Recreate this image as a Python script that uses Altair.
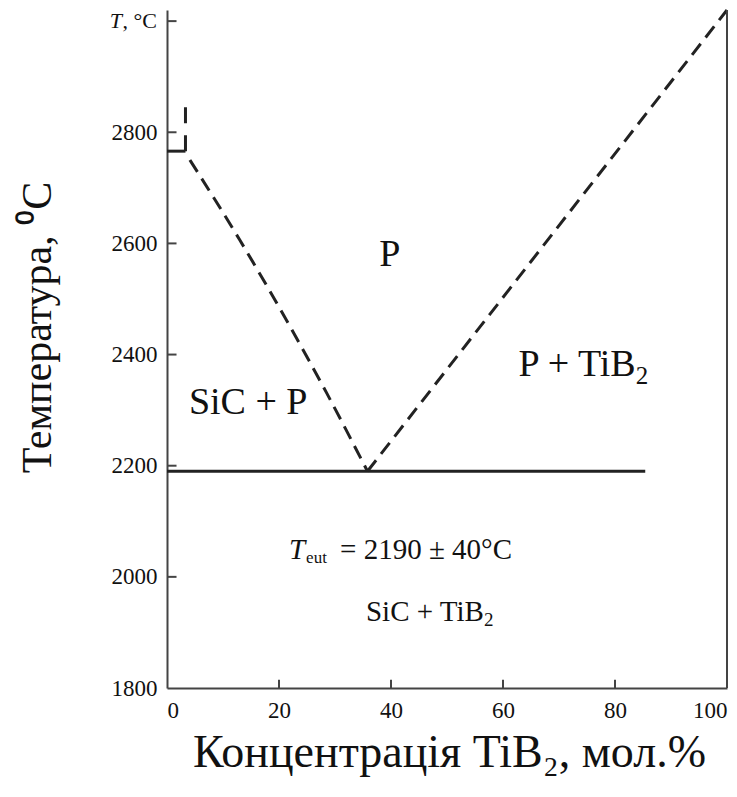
import altair as alt
import pandas as pd

# ---- data ----
liq_left_x = [4.1, 13.0, 22.0, 28.5, 35.8]
liq_left_t = [2750, 2606, 2450, 2331, 2190]
liq_right_x = [35.8, 100.0]
liq_right_t = [2190, 3020]
eut_x = [0.0, 85.4]
eut_t = 2190
bracket_x = [0.0, 3.3]
bracket_t = 2766
bracket_v_t = [2766, 2847]
y_tick_vals = [2000, 2200, 2400, 2600, 2800, 3000]
y_label_vals = [1800, 2000, 2200, 2400, 2600, 2800]
x_tick_vals = [20, 40, 60, 80]
x_label_vals = [0, 20, 40, 60, 80, 100]
x_domain = [0, 100]
y_domain = [1800, 3020]

FONT = "Liberation Serif"

xs = alt.Scale(domain=x_domain, nice=False, zero=False)
ys = alt.Scale(domain=y_domain, nice=False, zero=False)

x_enc = alt.X("x:Q", scale=xs, axis=alt.Axis(
    values=x_label_vals, format="d", title="Концентрація TiB₂, мол.%", tickSize=0,
    labelFont=FONT, labelFontSize=23, labelColor="#111", labelPadding=11,
    domainColor="#444", domainWidth=2, grid=False,
    titleFont=FONT, titleFontSize=46, titleFontWeight="normal", titleColor="#111",
    titleX=282, titleY=64, titleBaseline="middle", titleAlign="center"))
y_enc = alt.Y("t:Q", scale=ys, axis=alt.Axis(
    values=y_label_vals, format="d", title="Температура, ⁰C", tickSize=0,
    labelFont=FONT, labelFontSize=23, labelColor="#111", labelPadding=10,
    domainColor="#444", domainWidth=2, grid=False,
    titleFont=FONT, titleFontSize=42, titleFontWeight="normal", titleColor="#111",
    titleX=-130, titleY=317, titleBaseline="middle", titleAlign="center", titleAngle=270))

left_df = pd.DataFrame({"x": liq_left_x, "t": liq_left_t})
left_line = alt.Chart(left_df).mark_line(color="#222", strokeWidth=3, strokeDash=[14, 8], interpolate="monotone").encode(
    x=x_enc, y=y_enc)

right_df = pd.DataFrame({"x": liq_right_x, "t": liq_right_t})
right_line = alt.Chart(right_df).mark_line(color="#222", strokeWidth=3, strokeDash=[14, 8]).encode(
    x=alt.X("x:Q", scale=xs), y=alt.Y("t:Q", scale=ys))

eut_df = pd.DataFrame({"x": [eut_x[0]], "x2": [eut_x[1]], "t": [eut_t]})
eut_line = alt.Chart(eut_df).mark_rule(color="#222", strokeWidth=3).encode(
    x=alt.X("x:Q", scale=xs), x2="x2:Q", y=alt.Y("t:Q", scale=ys))

br_df = pd.DataFrame({"x": [bracket_x[0]], "x2": [bracket_x[1]], "t": [bracket_t]})
br_h = alt.Chart(br_df).mark_rule(color="#222", strokeWidth=3).encode(
    x=alt.X("x:Q", scale=xs), x2="x2:Q", y=alt.Y("t:Q", scale=ys))
brv_df = pd.DataFrame({"x": [bracket_x[1]], "t": [bracket_v_t[0]], "t2": [bracket_v_t[1]]})
br_v = alt.Chart(brv_df).mark_rule(color="#222", strokeWidth=3, strokeDash=[16, 12]).encode(
    x=alt.X("x:Q", scale=xs), y=alt.Y("t:Q", scale=ys), y2="t2:Q")

frame_df = pd.DataFrame({"x": [x_domain[1]], "t": [y_domain[0]], "t2": [y_domain[1]]})
frame = alt.Chart(frame_df).mark_rule(color="#444", strokeWidth=2).encode(
    x=alt.X("x:Q", scale=xs), y=alt.Y("t:Q", scale=ys), y2="t2:Q")

# inward ticks
yt_df = pd.DataFrame({"t": y_tick_vals, "x": [0] * len(y_tick_vals), "x2": [1.7] * len(y_tick_vals)})
yticks = alt.Chart(yt_df).mark_rule(color="#444", strokeWidth=2).encode(
    x=alt.X("x:Q", scale=xs), x2="x2:Q", y=alt.Y("t:Q", scale=ys))
xt_df = pd.DataFrame({"x": x_tick_vals, "t": [1800] * len(x_tick_vals), "t2": [1815] * len(x_tick_vals)})
xticks = alt.Chart(xt_df).mark_rule(color="#444", strokeWidth=2).encode(
    x=alt.X("x:Q", scale=xs), y=alt.Y("t:Q", scale=ys), y2="t2:Q")

def txt(df, **kw):
    base = dict(font=FONT, color="#111", baseline="middle")
    base.update(kw)
    return alt.Chart(df).mark_text(**base).encode(
        x=alt.X("x:Q", scale=xs), y=alt.Y("t:Q", scale=ys), text="s:N")

# "T, °C" top label of the temperature axis
t_unit = txt(pd.DataFrame({"x": [0], "t": [3000], "s": [", °C"]}), fontSize=22, align="right", dx=-10)
t_sym = txt(pd.DataFrame({"x": [0], "t": [3000], "s": ["T"]}), fontSize=22, align="right", dx=-45, fontStyle="italic")

# region labels
lab_P = txt(pd.DataFrame({"x": [39.8], "t": [2579], "s": ["P"]}), fontSize=38, align="center")
lab_SiCP = txt(pd.DataFrame({"x": [14.5], "t": [2313], "s": ["SiC + P"]}), fontSize=38, align="center")
lab_PTi = txt(pd.DataFrame({"x": [83.7], "t": [2381], "s": ["P + TiB"]}), fontSize=38, align="right")
lab_PTi2 = txt(pd.DataFrame({"x": [83.7], "t": [2381], "s": ["2"]}), fontSize=25, align="left", dy=11)
lab_SiT = txt(pd.DataFrame({"x": [56.6], "t": [1937], "s": ["SiC + TiB"]}), fontSize=29, align="right")
lab_SiT2 = txt(pd.DataFrame({"x": [56.6], "t": [1937], "s": ["2"]}), fontSize=19, align="left", dy=8)

eut_anchor_x = 21.8
eut_anchor_t = 2048
lab_T = txt(pd.DataFrame({"x": [eut_anchor_x], "t": [eut_anchor_t], "s": ["T"]}), fontSize=29, align="left", fontStyle="italic")
lab_eut = txt(pd.DataFrame({"x": [eut_anchor_x], "t": [eut_anchor_t], "s": ["eut"]}), fontSize=17, align="left", dx=17, dy=8)
lab_rest = txt(pd.DataFrame({"x": [eut_anchor_x], "t": [eut_anchor_t], "s": ["= 2190 ± 40°C"]}), fontSize=29, align="left", dx=51)

chart = alt.layer(
    left_line, right_line, eut_line, br_h, br_v, frame, yticks, xticks,
    t_unit, t_sym, lab_P, lab_SiCP, lab_PTi, lab_PTi2, lab_SiT, lab_SiT2,
    lab_T, lab_eut, lab_rest
).properties(
    width=560, height=678,
    padding={"left": 167, "top": 10, "right": 10, "bottom": 109},
    autosize=alt.AutoSizeParams(type="none"),
    background="white",
).configure_view(stroke=None)

chart.save("out.html", embed_options={"renderer": "svg", "actions": False})
